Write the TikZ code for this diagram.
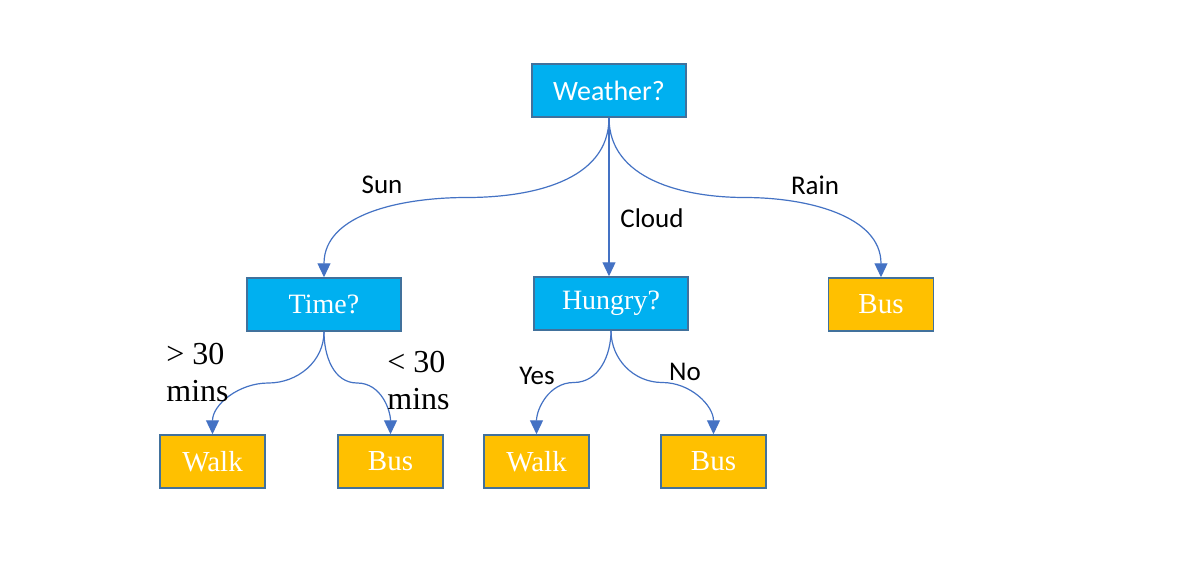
\documentclass[tikz,border=0pt]{standalone}
\usepackage{fontspec}
\setmainfont{Liberation Serif}
\newfontfamily\calibrifont{Carlito}
\usetikzlibrary{calc, arrows.meta}
\definecolor{askblue}{HTML}{00B0F0}
\definecolor{leafgold}{HTML}{FFC000}
\definecolor{boxedge}{HTML}{41719C}
\definecolor{linkblue}{HTML}{4472C4}

\begin{document}
\begin{tikzpicture}[
    x=0.5pt, y=-0.5pt,
    question/.style={draw=boxedge, line width=0.75pt, fill=askblue, text=white,
      minimum width=77pt, minimum height=26.5pt, inner sep=0pt,
      font=\fontsize{14}{16}\selectfont},
    leaf/.style={draw=boxedge, line width=0.75pt, fill=leafgold, text=white,
      minimum width=52.5pt, minimum height=26.5pt, inner sep=0pt,
      font=\fontsize{14.5}{16}\selectfont},
    link/.style={draw=linkblue, line width=0.6pt, -{Triangle[length=7pt, width=6.5pt]}},
    branch/.style={font=\calibrifont\fontsize{13.5}{16}\selectfont, inner sep=0pt},
    minsnote/.style={font=\fontsize{16}{18.5}\selectfont, align=left, inner sep=0pt, anchor=west},
  ]
    \fill[white] (0,0) rectangle (1183,580);

    \node[question, font=\calibrifont\fontsize{14}{16}\selectfont] (weather) at (609, 90.5) {Weather?};
    \node[question] (time) at (324, 304.5) {Time?};
    \node[question] (hungry) at (611, 303.5) {Hungry?};
    \node[leaf] (rainbus) at (881, 304.5) {Bus};
    \node[leaf] (longwalk) at (212.5, 461.5) {Walk};
    \node[leaf] (shortbus) at (390.5, 461.5) {Bus};
    \node[leaf] (yeswalk) at (536.5, 461.5) {Walk};
    \node[leaf] (nobus) at (713.5, 461.5) {Bus};

    \draw[link] (weather.south) to[out=-90, in=0] ($(weather.south)!.5!(time.north)$) to[out=180, in=90] (time.north);
    \draw[link] (weather.south) -- (weather.south |- hungry.north);
    \draw[link] (weather.south) to[out=-90, in=180] ($(weather.south)!.5!(rainbus.north)$) to[out=0, in=90] (rainbus.north);
    \draw[link] (time.south) to[out=-90, in=0] ($(time.south)!.5!(longwalk.north)$) to[out=180, in=90] (longwalk.north);
    \draw[link] (time.south) to[out=-90, in=180] ($(time.south)!.5!(shortbus.north)$) to[out=0, in=90] (shortbus.north);
    \draw[link] (hungry.south) to[out=-90, in=0] ($(hungry.south)!.5!(yeswalk.north)$) to[out=180, in=90] (yeswalk.north);
    \draw[link] (hungry.south) to[out=-90, in=180] ($(hungry.south)!.5!(nobus.north)$) to[out=0, in=90] (nobus.north);

    \node[branch] (sun) at (382, 185) {Sun};
    \node[branch] (cloud) at (652, 218) {Cloud};
    \node[branch] (rain) at (815, 185) {Rain};
    \node[branch] (yes) at (537, 376) {Yes};
    \node[branch] (no) at (685, 372) {No};
    \node[minsnote] (over) at (166, 373) {> 30\\mins};
    \node[minsnote] (under) at (387, 381) {< 30\\mins};
\end{tikzpicture}
\end{document}
